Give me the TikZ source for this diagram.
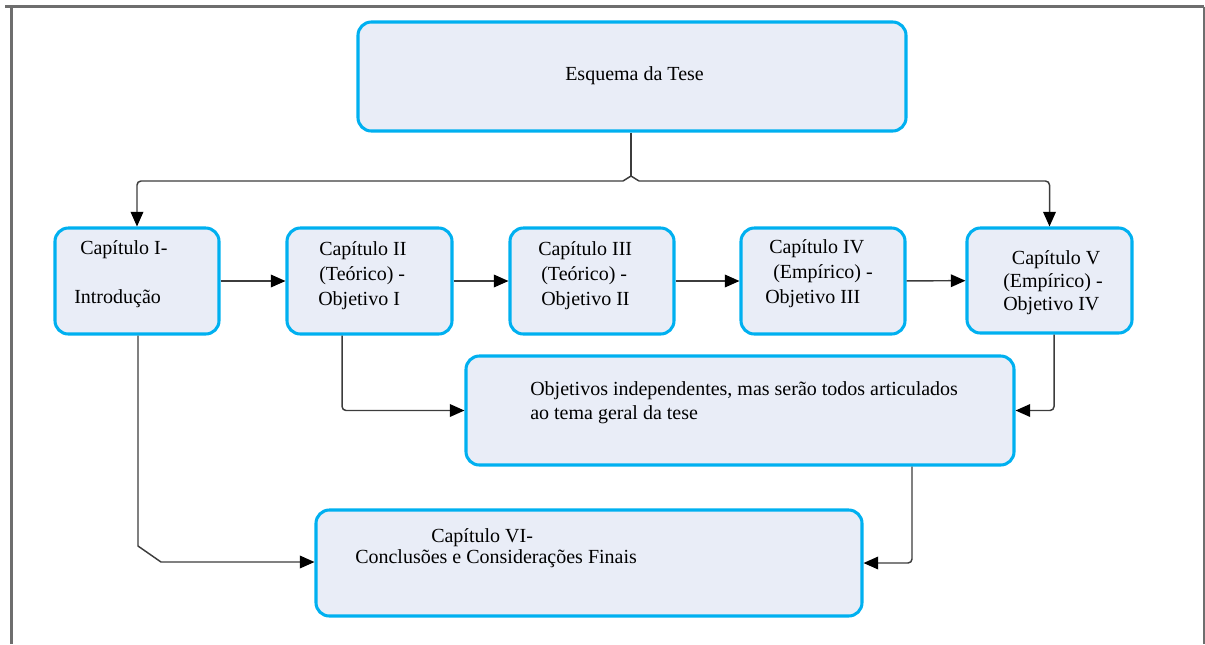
\documentclass[tikz,border=0pt]{standalone}
\usepackage{fontspec}
\setmainfont{Liberation Serif}
\usetikzlibrary{arrows.meta}
\definecolor{boxline}{HTML}{00B0F0}
\definecolor{boxfill}{HTML}{E9EDF7}
\definecolor{wire}{HTML}{3C3C3C}
\definecolor{framegray}{HTML}{6E6E6E}
\begin{document}
\begin{tikzpicture}[x=0.75pt,y=-0.75pt,
  box/.style={rectangle, draw=boxline, fill=boxfill, line width=2.3pt,
              rounded corners=10pt, inner sep=0pt},
  chap/.style={box, minimum width=123pt, minimum height=79.5pt},
  wide/.style={box, minimum width=411pt, minimum height=81.75pt},
  % multi-line labels are placed by the baseline of their last line
  lbl/.style={anchor=base west, align=left, inner sep=0pt,
              font={\fontsize{15}{18.75}\selectfont}},
  conn/.style={draw=wire, line width=1.1pt},
  arr/.style={conn, -{Triangle[length=11pt,width=9.5pt,color=black]}},
]
\useasboundingbox (0,0) rectangle (1205,644);

% outer frame
\draw[framegray, line width=1.8pt] (5,6.5) -- (1204,6.5)
  (11.5,6.5) -- (11.5,644) (1204,6.5) -- (1204,644);

% boxes
\node[wide] (top) at (632,76.5) {};
\node[chap] (c1) at (137,281) {};
\node[chap, minimum width=123.75pt] (c2) at (369.5,281) {};
\node[chap] (c3) at (592,281) {};
\node[chap] (c4) at (823,281) {};
\node[chap, minimum width=123.75pt, minimum height=78.75pt] (c5) at (1049.5,280.5) {};
\node[wide] (obj) at (740,410.5) {};
\node[wide, minimum width=409.5pt, minimum height=79.5pt] (c6) at (589,563) {};

% texts
\node[lbl] (t0) at (565,80) {Esquema da Tese};
\node[lbl] (t1) at (74,303) {\hspace*{4.5pt}Capítulo I-\\[18pt]Introdução};
\node[lbl] (t2) at (318,305) {\hspace*{0.75pt}Capítulo II\\\hspace*{0.75pt}(Teórico) -\\Objetivo I};
\node[lbl] (t3) at (538,305) {Capítulo III\\\hspace*{2.25pt}(Teórico) -\\\hspace*{2.25pt}Objetivo II};
\node[lbl] (t4) at (765,303) {\hspace*{3pt}Capítulo IV\\\hspace*{6pt}(Empírico) -\\Objetivo III};
\node[lbl, font={\fontsize{15}{17.25}\selectfont}] (t5) at (1003,310)
  {\hspace*{6.5pt}Capítulo V\\(Empírico) -\\Objetivo IV};
\node[lbl, font={\fontsize{15}{18}\selectfont}] (t6) at (530,419)
  {Objetivos independentes, mas serão todos articulados\\ao tema geral da tese};
\node[lbl, font={\fontsize{15}{15.5}\selectfont}] (t7) at (355,563.5)
  {\hspace*{57pt}Capítulo VI-\\Conclusões e Considerações Finais};

% split below the title box, with the small hop
\coordinate (apex) at (631,176);
\coordinate (hl) at (623,181);
\coordinate (hr) at (639,181);
\draw[conn] (top.south -| apex) -- (apex);
\draw[conn] (hl) -- (apex) -- (hr);
\draw[arr, rounded corners=3pt] (hl) -| (c1.north);
\draw[arr, rounded corners=3pt] (hr) -| (c5.north);

% chapter sequence
\draw[arr] (c1) -- (c2);
\draw[arr] (c2) -- (c3);
\draw[arr] (c3) -- (c4);
\draw[arr] (c4) -- (c5);

% into the objectives box
\draw[arr, rounded corners=3pt] ([xshift=-20.6pt]c2.south) |- (obj.west);
\draw[arr, rounded corners=3pt] ([xshift=3.4pt]c5.south) |- (obj.east);

% into the conclusions box
\draw[arr, rounded corners=3pt] ([xshift=129pt]obj.south) |- (c6.east);
\coordinate (k1) at (138,546);
\coordinate (k2) at (161,562);
\draw[arr] (c1.south -| k1) -- (k1) -- (k2) -- (k2 -| c6.west);
\end{tikzpicture}
\end{document}
